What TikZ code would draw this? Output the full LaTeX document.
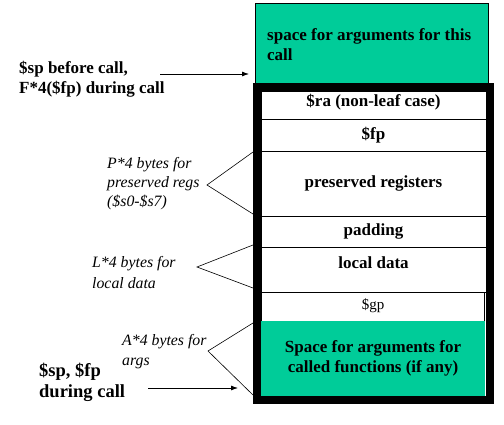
\documentclass[tikz,border=0pt]{standalone}
\usepackage{fontspec}
\setmainfont{Liberation Serif}
\usetikzlibrary{arrows.meta}
\definecolor{tealgreen}{HTML}{00CC99}
\begin{document}
\begin{tikzpicture}[x=1pt,y=-1pt,
  boldtxt/.style={font=\fontsize{17}{20}\selectfont\bfseries, inner sep=0pt, align=left},
  bigbold/.style={font=\fontsize{18.5}{21}\selectfont\bfseries, inner sep=0pt, align=left},
  itxt/.style={font=\fontsize{15.8}{20}\selectfont\itshape, inner sep=0pt, align=left},
  regtxt/.style={font=\fontsize{15}{18}\selectfont, inner sep=0pt},
  row/.style={draw=black, line width=0.8pt, fill=white, inner sep=0pt, minimum width=225pt},
  thinline/.style={line width=0.6pt},
  ptr/.style={line width=0.8pt, -{Latex[length=7pt,width=5pt]}}
]
\useasboundingbox (0,0) rectangle (504,425);
\fill[white] (0,0) rectangle (504,425);

% top box
\node[draw=black, line width=0.8pt, fill=tealgreen, minimum width=233pt, minimum height=80pt, inner sep=0pt] (topbox) at (371.5,43) {};
\node[boldtxt, anchor=west] (toptext) at (267,45) {space for arguments for this\\call};

% rows
\node[row, minimum height=28pt] (ra) at (373.5,105) {};
\node[row, minimum height=32pt] (fp) at (373.5,135) {};
\node[row, minimum height=65pt] (pres) at (373.5,183.5) {};
\node[row, minimum height=31pt] (pad) at (373.5,231.5) {};
\node[row, minimum height=45pt] (loc) at (373.5,269.5) {};
\node[row, minimum width=223pt, minimum height=29pt] (gp) at (372.5,306.5) {};
\node[fill=tealgreen, minimum width=224pt, minimum height=75pt, inner sep=0pt] (args) at (373,358.5) {};

\node[boldtxt] (ratext) at (373.5,102) {\$ra (non-leaf case)};
\node[boldtxt] (fptext) at (373.5,135) {\$fp};
\node[boldtxt] (prestext) at (373.5,183) {preserved registers};
\node[boldtxt] (padtext) at (373.5,231) {padding};
\node[boldtxt] (loctext) at (373.5,263) {local data};
\node[regtxt] (gptext) at (373,306) {\$gp};
\node[boldtxt, align=center] (argstext) at (373,358.5) {Space for arguments for\\called functions (if any)};

% thick frame
\draw[line width=8pt] (257,87) rectangle (490,399.5);

% left labels
\node[boldtxt, anchor=west] (spbefore) at (19,79) {\$sp before call,\\F*4(\$fp) during call};
\coordinate (a1s) at (160,74);
\coordinate (a1e) at (249,74);
\draw[ptr] (a1s) -- (a1e);

\node[bigbold, anchor=west] (spfp) at (39,382.5) {\$sp, \$fp\\during call};
\coordinate (a2s) at (148,388);
\coordinate (a2e) at (238,388);
\draw[ptr] (a2s) -- (a2e);

% brackets
\node[itxt, anchor=west, font=\fontsize{15.8}{19}\selectfont\itshape] (plab) at (107,184) {P*4 bytes for\\preserved regs\\(\$s0-\$s7)};
\coordinate (pap) at (207,185);
\coordinate (pt) at (253,152);
\coordinate (pb) at (253,214);
\draw[thinline] (pt) -- (pap) -- (pb);

\node[itxt, anchor=west, font=\fontsize{15.8}{21}\selectfont\itshape] (llab) at (92,272.5) {L*4 bytes for\\local data};
\coordinate (lap) at (197,267);
\coordinate (lt) at (253,245);
\coordinate (lb) at (253,288);
\draw[thinline] (lt) -- (lap) -- (lb);

\node[itxt, anchor=west] (alab) at (122,352) {A*4 bytes for\\args};
\coordinate (aap) at (208,351);
\coordinate (at) at (253,323);
\coordinate (ab) at (253,395);
\draw[thinline] (at) -- (aap) -- (ab);
\end{tikzpicture}
\end{document}
